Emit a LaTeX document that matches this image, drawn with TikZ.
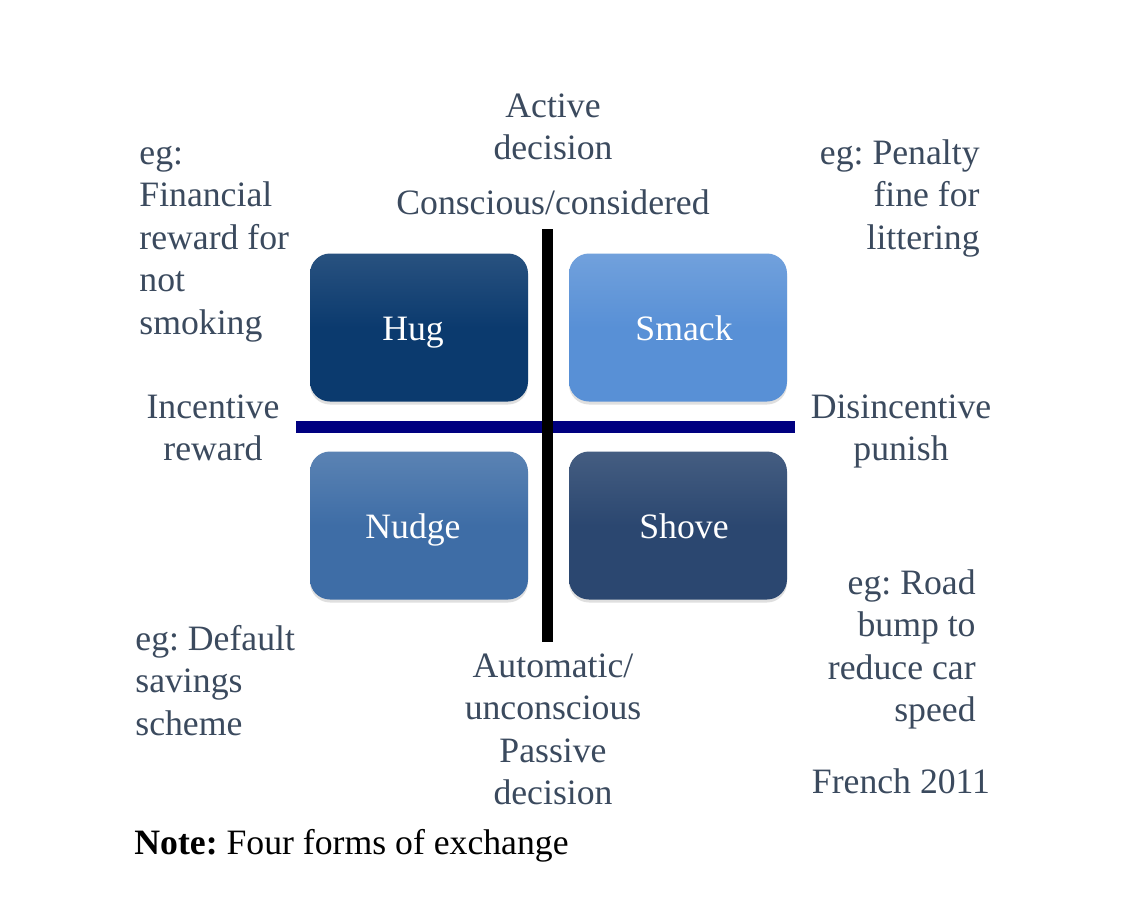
\documentclass[tikz,border=0pt]{standalone}
\usepackage{fontspec}
\setmainfont{Liberation Serif}
\usetikzlibrary{shadows}
\definecolor{txt}{RGB}{59,74,94}
\definecolor{hugc}{RGB}{11,58,110}
\definecolor{smackc}{RGB}{88,144,214}
\definecolor{nudgec}{RGB}{62,109,166}
\definecolor{shovec}{RGB}{43,71,112}
\definecolor{navyline}{RGB}{0,0,128}
\begin{document}
\frenchspacing
\begin{tikzpicture}[x=0.5pt,y=-0.5pt,
  lbl/.style={inner sep=0pt,text=txt,font=\fontsize{17.85}{21.25}\selectfont},
  quad/.style={draw=none,rounded corners=10pt,minimum width=109pt,minimum height=74pt,
    text=white,font=\fontsize{17.85}{21.25}\selectfont,text height=1.45em,text depth=0.15em,
    drop shadow={opacity=0.25,shadow xshift=0pt,shadow yshift=-1.5pt}},
]
\useasboundingbox[fill=white] (0,0) rectangle (1122,916);
% boxes
\node[quad,top color=hugc!88!white,bottom color=hugc,middle color=hugc] (hug) at (419,327.5) {Hug\hspace*{6pt}};
\node[quad,top color=smackc!85!white,bottom color=smackc,middle color=smackc] (smack) at (678,327.5) {\hspace*{6pt}Smack};
\node[quad,top color=nudgec!85!white,bottom color=nudgec,middle color=nudgec] (nudge) at (419,525.5) {Nudge\hspace*{6pt}};
\node[quad,top color=shovec!88!white,bottom color=shovec,middle color=shovec] (shove) at (678,525.5) {\hspace*{6pt}Shove};
% axes
\coordinate (hl) at (296,427);
\coordinate (hr) at (795,427);
\coordinate (vt) at (547,229);
\coordinate (vb) at (547,642);
\draw[navyline,line width=6pt] (hl) -- (hr);
\draw[black,line width=5.5pt] (vt) -- (vb);
% labels
\node[lbl,align=center,anchor=north] (active) at (553,87) {\strut Active\\decision};
\node[lbl,anchor=base] (conscious) at (553,214) {Conscious/considered};
\node[lbl,align=left,anchor=north west] (ex1) at (139,134) {\strut eg:\\Financial\\reward for\\not\\smoking};
\node[lbl,align=center,anchor=north] (incent) at (213,388) {\strut Incentive\\reward};
\node[lbl,align=right,anchor=north east] (ex2) at (980,134) {\strut eg: Penalty\\fine for\\littering};
\node[lbl,align=center,anchor=north] (disinc) at (901,388) {\strut Disincentive\\punish};
\node[lbl,align=left,anchor=north west] (ex3) at (135,620) {\strut eg: Default\\savings\\scheme};
\node[lbl,align=center,anchor=north] (auto) at (553,647) {\strut Automatic/\\unconscious\\Passive\\decision};
\node[lbl,align=right,anchor=north east] (ex4) at (976,564) {\strut eg: Road\\bump to\\reduce car\\speed};
\node[lbl,anchor=base] (french) at (901,793) {French 2011};
\node[lbl,text=black,anchor=base west] (note) at (134,854) {\textbf{Note:} Four forms of exchange};
\end{tikzpicture}
\end{document}
